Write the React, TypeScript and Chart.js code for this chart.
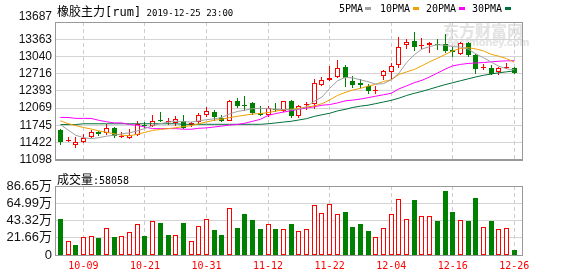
import React, { useEffect, useRef } from 'react';
import { Chart, registerables } from 'chart.js';

Chart.register(...registerables);

const dates = [
  '09-27', '09-30', '10-08', '10-09', '10-10', '10-11', '10-14', '10-15', '10-16', '10-17',
  '10-18', '10-21', '10-22', '10-23', '10-24', '10-25', '10-28', '10-29', '10-30', '10-31',
  '11-01', '11-04', '11-05', '11-06', '11-07', '11-08', '11-11', '11-12', '11-13', '11-14',
  '11-15', '11-18', '11-19', '11-20', '11-21', '11-22', '11-25', '11-26', '11-27', '11-28',
  '11-29', '12-02', '12-03', '12-04', '12-05', '12-06', '12-09', '12-10', '12-11', '12-12',
  '12-13', '12-16', '12-17', '12-18', '12-19', '12-20', '12-23', '12-24', '12-25', '12-26',
];

const opens = [
  11659, 11455, 11369, 11431, 11527, 11618, 11605, 11695, 11522, 11514,
  11569, 11750, 11726, 11849, 11810, 11791, 11835, 11750, 11804, 11949,
  11991, 11876, 11835, 12202, 12135, 12166, 11985, 11944, 12058, 12012,
  12202, 11913, 12121, 12143, 12510, 12595, 12650, 12849, 12583, 12546,
  12492, 12383, 12668, 12746, 12872, 13247, 13330, 13231, 13258, 13280,
  13271, 13162, 13090, 13284, 13059, 12818, 12818, 12741, 12818, 12818,
];
const highs = [
  11677, 11533, 11520, 11578, 11650, 11641, 11773, 11713, 11614, 11672,
  11831, 11804, 11931, 11991, 11882, 11913, 11940, 11813, 11985, 12094,
  12034, 11940, 12226, 12266, 12293, 12184, 12103, 12112, 12172, 12211,
  12226, 12135, 12184, 12619, 12646, 12860, 12968, 12872, 12678, 12610,
  12516, 12483, 12787, 12908, 13397, 13361, 13500, 13379, 13320, 13361,
  13461, 13211, 13302, 13302, 13077, 12899, 12878, 12849, 12908, 12845,
];
const lows = [
  11370, 11424, 11321, 11415, 11505, 11551, 11556, 11514, 11509, 11498,
  11552, 11695, 11705, 11804, 11750, 11732, 11686, 11714, 11777, 11895,
  11822, 11813, 11822, 12067, 12021, 11931, 11922, 11895, 11991, 11994,
  11889, 11885, 12030, 12058, 12483, 12577, 12637, 12469, 12456, 12438,
  12335, 12338, 12606, 12606, 12827, 13180, 13135, 13171, 13099, 13162,
  13102, 13030, 13071, 13030, 12709, 12787, 12686, 12697, 12809, 12709,
];
const closes = [
  11429, 11465, 11424, 11509, 11618, 11581, 11690, 11551, 11540, 11563,
  11762, 11732, 11835, 11822, 11835, 11871, 11701, 11786, 11944, 12016,
  11895, 11835, 12199, 12106, 12117, 11972, 11931, 12076, 12040, 12197,
  11922, 12106, 12139, 12546, 12595, 12637, 12818, 12628, 12498, 12498,
  12383, 12402, 12758, 12867, 13211, 13312, 13222, 13260, 13284, 13258,
  13149, 13131, 13284, 13059, 12805, 12836, 12709, 12818, 12830, 12727,
];

const volumes = [
  452000, 176000, 126000, 222000, 235000, 213000, 335000, 226000, 235000, 289000,
  385000, 239000, 423000, 402000, 251000, 247000, 402000, 176000, 360000, 448000,
  314000, 251000, 586000, 339000, 515000, 440000, 327000, 385000, 327000, 323000,
  389000, 301000, 323000, 628000, 527000, 640000, 515000, 540000, 352000, 389000,
  305000, 226000, 335000, 515000, 703000, 448000, 691000, 490000, 490000, 427000,
  804000, 540000, 440000, 427000, 716000, 352000, 427000, 327000, 339000, 58058,
];
// 1 = red (hollow) volume bar, 0 = green bar, as seen in the picture
const volumeUp = [
  0, 1, 0, 1, 1, 0, 1, 0, 1, 1,
  1, 0, 1, 0, 0, 1, 0, 1, 1, 1,
  0, 0, 1, 0, 0, 0, 0, 1, 0, 1,
  0, 1, 1, 1, 1, 1, 1, 0, 0, 0,
  0, 1, 1, 1, 1, 1, 0, 1, 1, 0,
  0, 0, 1, 0, 0, 1, 0, 1, 1, 0,
];

const ma5 = [
  11761, 11659, 11560, 11514, 11496, 11514, 11542, 11560, 11587, 11605,
  11641, 11686, 11741, 11777, 11804, 11822, 11815, 11808, 11829, 11852,
  11867, 11895, 11960, 12006, 12030, 12058, 12066, 12058, 12048, 12041,
  12039, 12048, 12095, 12200, 12275, 12440, 12580, 12646, 12637, 12601,
  12565, 12519, 12528, 12601, 12725, 12925, 13071, 13178, 13225, 13261,
  13250, 13225, 13216, 13180, 13088, 13015, 12936, 12855, 12809, 12788,
];
const ma10 = [
  11831, 11777, 11741, 11705, 11677, 11641, 11614, 11587, 11560, 11550,
  11578, 11614, 11650, 11668, 11683, 11701, 11723, 11740, 11775, 11810,
  11840, 11862, 11890, 11915, 11936, 11958, 11967, 11985, 12012, 12039,
  12048, 12066, 12090, 12110, 12152, 12222, 12305, 12363, 12409, 12439,
  12483, 12518, 12570, 12600, 12700, 12750, 12795, 12865, 12940, 13005,
  13075, 13144, 13189, 13205, 13180, 13144, 13080, 13044, 12999, 12930,
];
const ma20 = [
  11894, 11894, 11876, 11876, 11876, 11840, 11813, 11791, 11791, 11760,
  11746, 11714, 11684, 11684, 11684, 11684, 11672, 11672, 11690, 11698,
  11714, 11732, 11750, 11762, 11786, 11822, 11858, 11931, 11967, 11994,
  12021, 12048, 12070, 12094, 12124, 12135, 12166, 12205, 12220, 12238,
  12266, 12293, 12320, 12347, 12430, 12487, 12546, 12592, 12655, 12727,
  12800, 12863, 12890, 12908, 12917, 12926, 12938, 12950, 12957, 12960,
];
const ma30 = [
  11760, 11760, 11760, 11775, 11775, 11775, 11775, 11775, 11775, 11775,
  11775, 11775, 11775, 11775, 11775, 11775, 11765, 11765, 11765, 11765,
  11765, 11765, 11765, 11765, 11765, 11765, 11765, 11775, 11790, 11807,
  11822, 11846, 11871, 11913, 11944, 11972, 12016, 12045, 12081, 12106,
  12124, 12154, 12184, 12215, 12255, 12306, 12347, 12383, 12425, 12468,
  12510, 12546, 12583, 12619, 12655, 12686, 12709, 12733, 12751, 12769,
];

const priceTicks = [11098, 11422, 11745, 12069, 12393, 12716, 13040, 13363, 13687];
const volumeTicks = [0, 216625, 433250, 649875, 866500];
const volumeTickLabels = ['0', '21.66万', '43.32万', '64.99万', '86.65万'];
const xTickIndex = [3, 11, 19, 27, 35, 43, 51, 59];
const xTickLabels = ['10-09', '10-21', '10-31', '11-12', '11-22', '12-04', '12-16', '12-26'];

const maNames = ['5PMA', '10PMA', '20PMA', '30PMA'];
const maColors = ['#a0a0a0', '#f0a000', '#ff00ff', '#00703c'];

const RED = '#ff0000';
const GREEN = '#008000';
const X_MIN = -0.69;
const X_MAX = 60.0;

const framePlugin = {
  id: 'frame',
  afterDatasetsDraw(chart: any) {
    const { ctx, chartArea } = chart;
    const l = Math.round(chartArea.left);
    const t = Math.round(chartArea.top);
    const r = Math.round(chartArea.right);
    const b = Math.round(chartArea.bottom);
    ctx.save();
    ctx.strokeStyle = '#999999';
    ctx.lineWidth = 1;
    ctx.strokeRect(l + 0.5, t + 0.5, r - l, b - t);
    ctx.restore();
  },
};

// keep bar edges on whole pixels so that they stay crisp
const snapPlugin = {
  id: 'snap',
  afterDatasetsUpdate(chart: any) {
    chart.getSortedVisibleDatasetMetas().forEach((meta: any) => {
      if (meta.type !== 'bar') return;
      meta.data.forEach((el: any) => {
        el.x = Math.floor(el.x) + 0.5;
        el.y = Math.round(el.y);
        el.base = Math.round(el.base);
      });
    });
  },
};

export default function App() {
  const mainRef = useRef<HTMLCanvasElement | null>(null);
  const volRef = useRef<HTMLCanvasElement | null>(null);

  useEffect(() => {
    const up = closes.map((c, i) => c >= opens[i]);
    const lineSets = [ma5, ma10, ma20, ma30].map((arr, k) => ({
      type: 'line' as const,
      label: maNames[k],
      data: arr.map((y, x) => ({ x, y })),
      borderColor: maColors[k],
      borderWidth: 1,
      pointRadius: 0,
      tension: 0,
      order: 0,
    }));

    const xBase = {
      type: 'linear',
      min: X_MIN,
      max: X_MAX,
      offset: false,
      bounds: 'data',
      afterBuildTicks: (s: any) => { s.ticks = xTickIndex.map((v) => ({ value: v })); },
      grid: { color: '#cccccc', drawTicks: false, offset: false },
      border: { display: true, color: '#999999', dash: [4, 3] },
    };

    const main = new Chart(mainRef.current as HTMLCanvasElement, {
      type: 'bar',
      data: {
        datasets: [
          ...lineSets,
          {
            type: 'bar',
            label: 'body',
            data: opens.map((o, i) => ({ x: i, y: [o, closes[i]] })),
            backgroundColor: up.map((u) => (u ? '#ffffff' : GREEN)),
            borderColor: up.map((u) => (u ? RED : GREEN)),
            borderWidth: 1,
            borderSkipped: false,
            barThickness: 5,
            grouped: false,
            minBarLength: 1,
            inflateAmount: 0,
            order: 1,
          },
          {
            type: 'bar',
            label: 'wick',
            data: highs.map((h, i) => ({ x: i, y: [lows[i], h] })),
            backgroundColor: up.map((u) => (u ? RED : GREEN)),
            borderWidth: 0,
            barThickness: 1,
            grouped: false,
            inflateAmount: 0,
            order: 2,
          },
        ] as any,
      },
      options: {
        responsive: false,
        animation: false,
        devicePixelRatio: 1,
        events: [],
        layout: { padding: { top: 22, right: 56, bottom: 5, left: 0 } },
        plugins: { legend: { display: false }, tooltip: { enabled: false } },
        scales: {
          x: {
            ...xBase,
            afterFit: (s: any) => { s.height = 0; },
            ticks: { display: false },
          },
          y: {
            type: 'linear',
            min: priceTicks[0],
            max: priceTicks[priceTicks.length - 1],
            bounds: 'data',
            afterFit: (s: any) => { s.width = 55; },
            afterBuildTicks: (s: any) => { s.ticks = priceTicks.map((v) => ({ value: v })); },
            ticks: {
              autoSkip: false,
              padding: 3,
              color: '#111111',
              font: (ctx: any) => ({
                family: "'Liberation Sans', Arial, sans-serif",
                size: 12,
                lineHeight: ctx.index === priceTicks.length - 1 ? 0.95 : 1.2,
              }),
              callback: (v: any, i: number) =>
                i === priceTicks.length - 1 ? [String(priceTicks[i]), ''] : String(priceTicks[i]),
            },
            grid: { color: '#d4d4d4', drawTicks: false },
            border: { display: true, color: '#999999' },
          },
        },
      } as any,
      plugins: [snapPlugin, framePlugin],
    });

    const vol = new Chart(volRef.current as HTMLCanvasElement, {
      type: 'bar',
      data: {
        datasets: [
          {
            label: '成交量',
            data: volumes.map((v, i) => ({ x: i, y: v })),
            backgroundColor: volumeUp.map((u) => (u ? '#ffffff' : GREEN)),
            borderColor: volumeUp.map((u) => (u ? RED : GREEN)),
            borderWidth: 1,
            borderSkipped: false,
            barThickness: 5,
            inflateAmount: 0,
          },
        ] as any,
      },
      options: {
        responsive: false,
        animation: false,
        devicePixelRatio: 1,
        events: [],
        layout: { padding: { top: 16, right: 56, bottom: 0, left: 0 } },
        plugins: { legend: { display: false }, tooltip: { enabled: false } },
        scales: {
          x: {
            ...xBase,
            afterFit: (s: any) => { s.height = 21; },
            ticks: {
              autoSkip: false,
              maxRotation: 0,
              padding: 5,
              color: RED,
              font: { family: "'DejaVu Sans Mono', monospace", size: 10 },
              callback: (v: any, i: number) => xTickLabels[i],
            },
          },
          y: {
            type: 'linear',
            min: 0,
            max: volumeTicks[volumeTicks.length - 1],
            bounds: 'data',
            afterFit: (s: any) => { s.width = 55; },
            afterBuildTicks: (s: any) => { s.ticks = volumeTicks.map((v) => ({ value: v })); },
            ticks: {
              autoSkip: false,
              padding: 3,
              color: '#111111',
              font: { family: "'Liberation Sans', 'Noto Sans CJK SC', sans-serif", size: 13 },
              callback: (v: any, i: number) => volumeTickLabels[i],
            },
            grid: { color: '#d4d4d4', drawTicks: false },
            border: { display: true, color: '#999999' },
          },
        },
      } as any,
      plugins: [snapPlugin, framePlugin],
    });

    return () => {
      main.destroy();
      vol.destroy();
    };
  }, []);

  const legendX = [339, 380, 426, 472];
  const squareX = [365, 413, 459, 505];

  return (
    <div
      style={{
        position: 'absolute',
        left: 0,
        top: 0,
        width: 578,
        height: 276,
        background: '#ffffff',
        overflow: 'hidden',
        color: '#000',
      }}
    >
      <div
        style={{
          position: 'absolute',
          left: 443,
          top: 21,
          font: "bold 16px 'Noto Sans CJK SC', sans-serif",
          lineHeight: '18px',
          color: '#e2e2e2',
          whiteSpace: 'nowrap',
        }}
      >
        东方财富网
      </div>
      <div
        style={{
          position: 'absolute',
          left: 447,
          top: 36,
          font: "bold 11px 'Liberation Sans', Arial, sans-serif",
          lineHeight: '12px',
          color: '#e2e2e2',
          whiteSpace: 'nowrap',
        }}
      >
        eastmoney.com
      </div>
      <canvas
        ref={mainRef}
        width={578}
        height={170}
        style={{ position: 'absolute', left: 0, top: 0, width: 578, height: 170 }}
      />
      <canvas
        ref={volRef}
        width={578}
        height={106}
        style={{ position: 'absolute', left: 0, top: 170, width: 578, height: 106 }}
      />
      <div
        style={{
          position: 'absolute',
          left: 57,
          top: 2,
          whiteSpace: 'nowrap',
          lineHeight: '13px',
          height: 13,
        }}
      >
        <span style={{ font: "12px 'Noto Sans CJK SC', sans-serif" }}>橡胶主力</span>
        <span style={{ font: "12px 'DejaVu Sans Mono', monospace" }}>[rum]</span>
        <span style={{ font: "9px 'DejaVu Sans Mono', monospace" }}> 2019-12-25 23:00</span>
      </div>
      {maNames.map((n, k) => (
        <React.Fragment key={n}>
          <div
            style={{
              position: 'absolute',
              left: legendX[k],
              top: 3,
              font: "10px 'DejaVu Sans Mono', monospace",
              lineHeight: '12px',
              whiteSpace: 'nowrap',
            }}
          >
            {n}
          </div>
          <div
            style={{
              position: 'absolute',
              left: squareX[k],
              top: 7,
              width: 6,
              height: 3,
              background: maColors[k],
            }}
          />
        </React.Fragment>
      ))}
      <div
        style={{
          position: 'absolute',
          left: 57,
          top: 170,
          whiteSpace: 'nowrap',
          lineHeight: '14px',
        }}
      >
        <span style={{ font: "12px 'Noto Sans CJK SC', sans-serif" }}>成交量</span>
        <span style={{ font: "10px 'DejaVu Sans Mono', monospace" }}>:58058</span>
      </div>
    </div>
  );
}
